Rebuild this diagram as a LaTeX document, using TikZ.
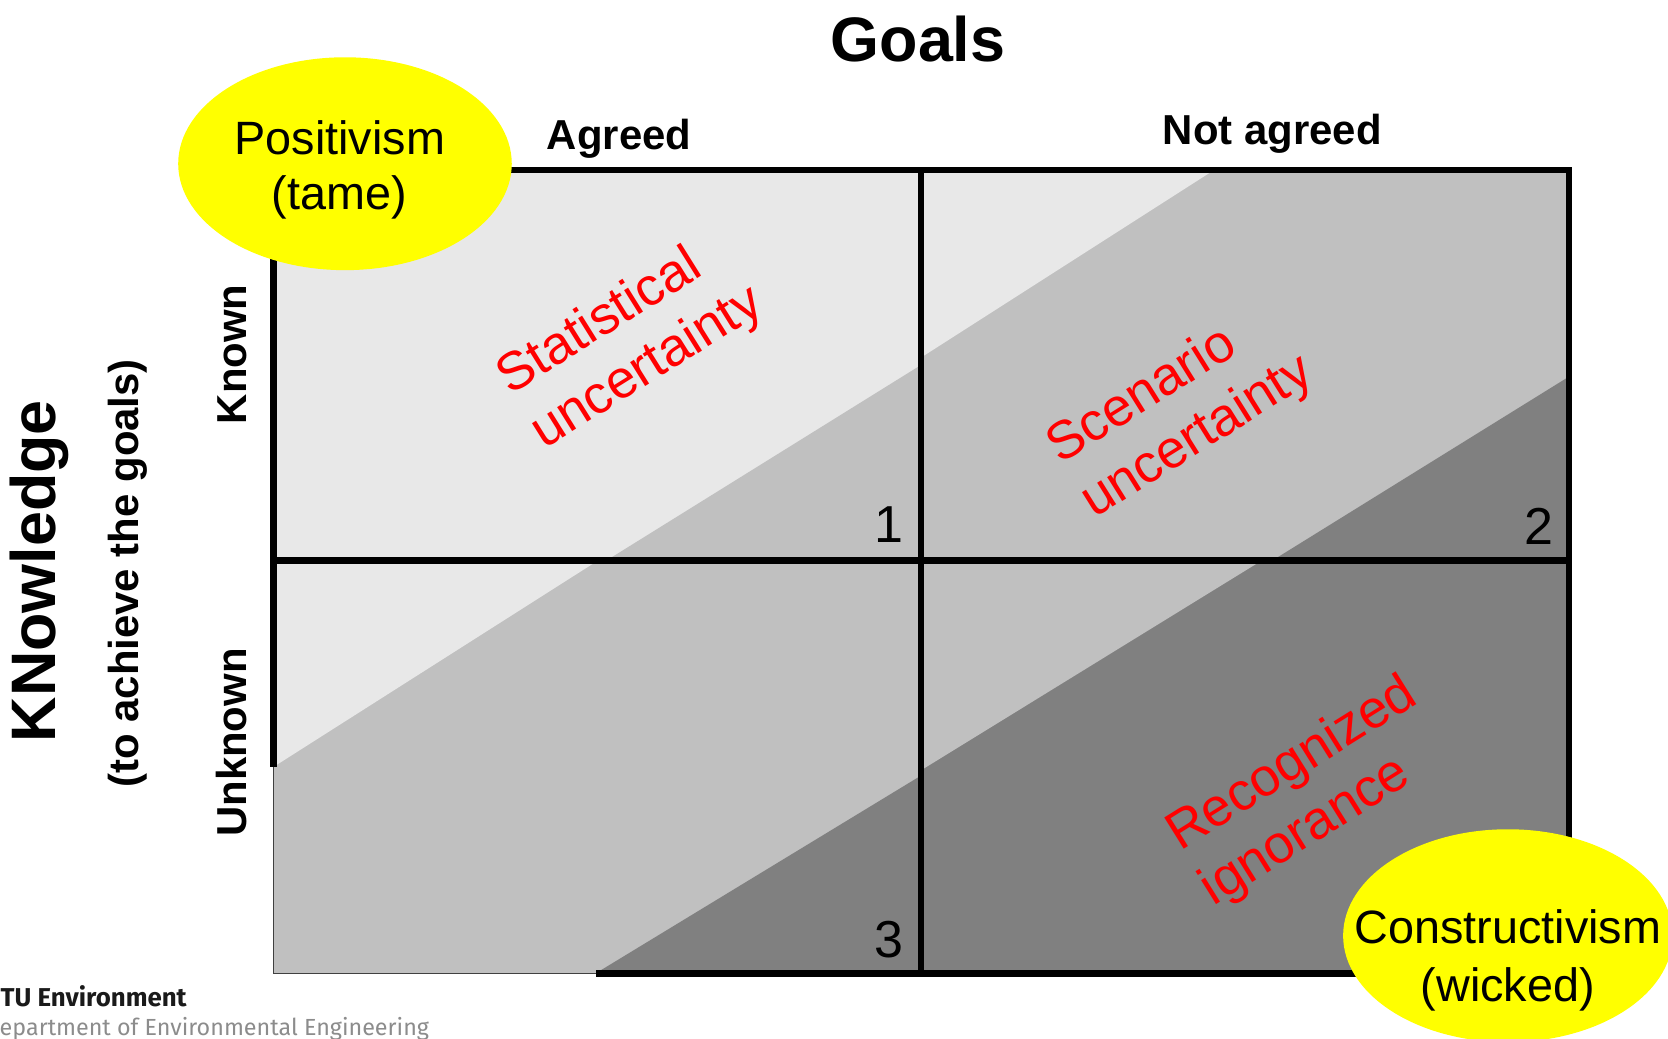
\documentclass[tikz,border=0pt]{standalone}
\usepackage{fontspec}
\setmainfont{Liberation Sans}
\newfontfamily\footfont{Fira Sans}
\usetikzlibrary{shapes.geometric}
\definecolor{lightg}{HTML}{E8E8E8}
\definecolor{midg}{HTML}{C0C0C0}
\definecolor{darkg}{HTML}{808080}
\definecolor{yell}{HTML}{FFFF00}
\definecolor{footgray}{HTML}{8C8C8C}
\definecolor{footdark}{HTML}{1A1A1A}
\begin{document}
\begin{tikzpicture}[x=0.01cm,y=-0.01cm,
  thickline/.style={line width=0.06cm, black, line join=miter},
  thinline/.style={line width=0.4pt, black!75},
  titlefont/.style={font=\fontsize{16.8}{20}\selectfont\bfseries},
  headerfont/.style={font=\fontsize{11.2}{13}\selectfont\bfseries},
  redtext/.style={text=red, font=\fontsize{14.3}{17.1}\selectfont, align=left, rotate=32, inner sep=0pt},
  numlabel/.style={font=\fontsize{13.9}{16}\selectfont, inner sep=0pt},
  blob/.style={ellipse, fill=yell, inner sep=0pt, minimum height=2cm},
  blobtext/.style={font=\fontsize{12.5}{15}\selectfont, inner sep=0pt},
  foota/.style={font=\footfont\bfseries\fontsize{6.9}{8}\selectfont, text=footdark, inner sep=0pt},
  footb/.style={font=\footfont\fontsize{6.23}{7.5}\selectfont, text=footgray, inner sep=0pt}]
\useasboundingbox (0,0) rectangle (1568,976);
\clip (0,0) rectangle (1568,976);
\fill[white] (0,0) rectangle (1568,976);
% top-left quadrant
\fill[lightg] (257,160) rectangle (866,527);
\fill[midg] (866,343) -- (866,527) -- (570,527) -- cycle;
% top-right quadrant
\fill[midg] (866,160) rectangle (1475,527);
\fill[lightg] (866,160) -- (1141,160) -- (866,336) -- cycle;
\fill[darkg] (1475,354) -- (1475,527) -- (1196,527) -- cycle;
% bottom-left quadrant
\fill[midg] (257,527) rectangle (866,915);
\fill[lightg] (257,527) -- (562,527) -- (257,721) -- cycle;
\fill[darkg] (560,915) -- (866,729) -- (866,915) -- cycle;
% bottom-right quadrant
\fill[darkg] (866,527) rectangle (1475,915);
\fill[midg] (866,527) -- (1186,527) -- (866,724) -- cycle;
% grid lines
\draw[thickline] (257,721) -- (257,160) -- (1475,160) -- (1475,915) -- (560,915);
\draw[thinline] (560,915) -- (257,915) -- (257,721);
\draw[thickline] (866,160) -- (866,915);
\draw[thickline] (257,527) -- (1475,527);
% cell texts
\node[redtext] (stat) at (593,321) {Statistical\\uncertainty};
\node[redtext] (scen) at (1110,386) {Scenario\\uncertainty};
\node[redtext] (reco) at (1231,745) {Recognized\\ignorance};
\node[numlabel] (n1) at (836,493) {1};
\node[numlabel] (n2) at (1447,495) {2};
\node[numlabel] (n3) at (836,883) {3};
% ellipses
\node[blob, minimum width=3.134cm] (posit) at (324.3,153.9) {};
\node[blobtext, anchor=base] (posit1) at (319.5,145.7) {Positivism};
\node[blobtext, anchor=base] (posit2) at (319,197.4) {(tame)};
\node[blob, minimum width=3.096cm] (constr) at (1417.5,879.6) {};
\node[blobtext, anchor=base] (constr1) at (1417.5,887.4) {Constructivism};
\node[blobtext, anchor=base] (constr2) at (1417.5,941.6) {(wicked)};
% axis labels
\node[titlefont] (goals) at (863,37) {Goals};
\node[headerfont, anchor=base] (agreed) at (582,141) {Agreed};
\node[headerfont, anchor=base] (notagreed) at (1196,136) {Not agreed};
\node[titlefont, rotate=90] (know) at (37,537) {KNowledge};
\node[headerfont, rotate=90] (toach) at (120,539) {(to achieve the goals)};
\node[headerfont, rotate=90] (known) at (218,333) {Known};
\node[headerfont, rotate=90] (unknown) at (218,698) {Unknown};
% footer
\node[foota, anchor=base west] (tu) at (0,946) {TU Environment};
\node[footb, anchor=base east] (dept) at (404,973) {Department of Environmental Engineering};
\end{tikzpicture}
\end{document}
